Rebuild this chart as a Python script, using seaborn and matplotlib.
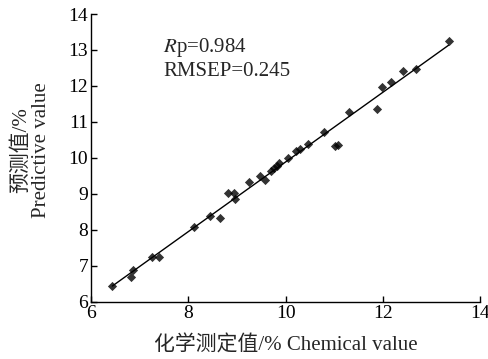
"""PLS prediction vs chemical value scatter with fitted line"""

import pandas as pd
import matplotlib.pyplot as plt
import seaborn as sns

chemical = [6.44, 6.82, 6.87, 7.25, 7.40, 8.12, 8.45, 8.65, 8.81, 8.94, 8.97,
            9.24, 9.48, 9.58, 9.71, 9.77, 9.82, 9.87, 10.05, 10.22, 10.30,
            10.46, 10.79, 11.02, 11.08, 11.31, 11.87, 11.99, 12.17, 12.41,
            12.68, 13.35]
predicted = [6.44, 6.70, 6.90, 7.25, 7.25, 8.09, 8.39, 8.34, 9.02, 9.02, 8.86,
             9.32, 9.50, 9.39, 9.64, 9.71, 9.79, 9.85, 9.99, 10.18, 10.25,
             10.38, 10.71, 10.32, 10.35, 11.27, 11.37, 11.96, 12.11, 12.43,
             12.48, 13.26]
ticks = [6, 8, 10, 12, 14]
yticks = [6, 7, 8, 9, 10, 11, 12, 13, 14]

df = pd.DataFrame({"chem": chemical, "pred": predicted})

sns.set_theme(style="ticks")
plt.rcParams["font.family"] = ["Liberation Serif", "Noto Sans CJK SC"]
plt.rcParams["mathtext.fontset"] = "stix"

fig = plt.figure(figsize=(4.89, 3.59), dpi=100)
ax = fig.add_axes([0.186, 0.159, 0.796, 0.802])

sns.regplot(data=df, x="chem", y="pred", ax=ax, ci=None, color="black",
            marker="D", scatter_kws={"s": 22, "linewidths": 0},
            line_kws={"linewidth": 1})

ax.set_xlim(6, 14)
ax.set_ylim(6, 14)
ax.set_xticks(ticks)
ax.set_yticks(yticks)
ax.tick_params(direction="in", length=4, width=1, labelsize=14, colors="black",
               pad=2)
for side in ["left", "bottom"]:
    ax.spines[side].set_linewidth(1)
    ax.spines[side].set_color("black")
sns.despine(ax=ax)

ax.set_xlabel("化学测定值/% Chemical value", fontsize=15)
ax.xaxis.set_label_coords(0.5, -0.118)
ax.set_ylabel("预测值/%\nPredictive value", fontsize=15, linespacing=1.1)
ax.yaxis.set_label_coords(-0.102, 0.528)

ax.text(7.48, 13.06, r"$R$p=0.984", fontsize=15, va="center")
ax.text(7.48, 12.39, "RMSEP=0.245", fontsize=15, va="center")

plt.savefig("out.png", dpi=100)
plt.close()
